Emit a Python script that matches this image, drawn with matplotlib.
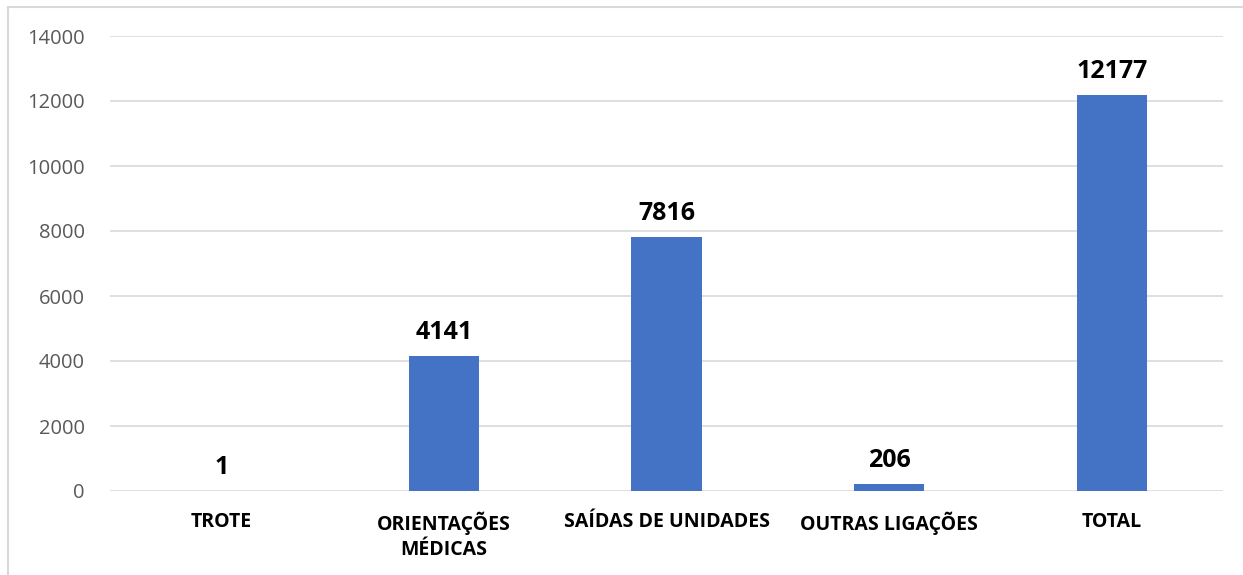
import matplotlib.pyplot as plt
from matplotlib.patches import Rectangle

categories = ["TROTE", "ORIENTAÇÕES\nMÉDICAS", "SAÍDAS DE UNIDADES", "OUTRAS LIGAÇÕES", "TOTAL"]
values = [1, 4141, 7816, 206, 12177]
yticks = [0, 2000, 4000, 6000, 8000, 10000, 12000, 14000]

plt.rcParams['font.family'] = ['Open Sans', 'DejaVu Sans']

fig = plt.figure(figsize=(12.43, 5.75), dpi=100)
ax = fig.add_axes([110 / 1243, 1 - 491 / 575, (1223 - 110) / 1243, (491 - 36) / 575])

# light border around the chart area
fig.patches.append(Rectangle((8 / 1243, -0.01), 1.0, 1 - 7 / 575 + 0.01,
                             transform=fig.transFigure, fill=False,
                             edgecolor="#d9d9d9", linewidth=1.5))

x = list(range(len(categories)))
bars = ax.bar(x, values, width=0.315, color="#4472C4", zorder=3)

for b, v in zip(bars, values):
    ax.annotate(str(v), (b.get_x() + b.get_width() / 2, v), xytext=(0, 8),
                textcoords="offset points", ha="center", va="bottom",
                fontsize=18, fontweight="bold", color="black")

ax.set_xlim(-0.5, len(categories) - 0.5)
ax.set_ylim(0, 14000)
ax.set_yticks(yticks)
ax.set_yticklabels([str(t) for t in yticks], fontsize=14.5, color="#595959")
ax.set_xticks(x)
ax.set_xticklabels(categories, fontsize=14, fontweight="bold", color="black",
                   linespacing=1.3)
ax.tick_params(axis="both", length=0)
ax.tick_params(axis="x", pad=15)
ax.tick_params(axis="y", pad=18)
ax.grid(axis="y", color="#d9d9d9", linewidth=1.2, zorder=0)
for s in ax.spines.values():
    s.set_visible(False)

fig.savefig("out.png", dpi=100)
